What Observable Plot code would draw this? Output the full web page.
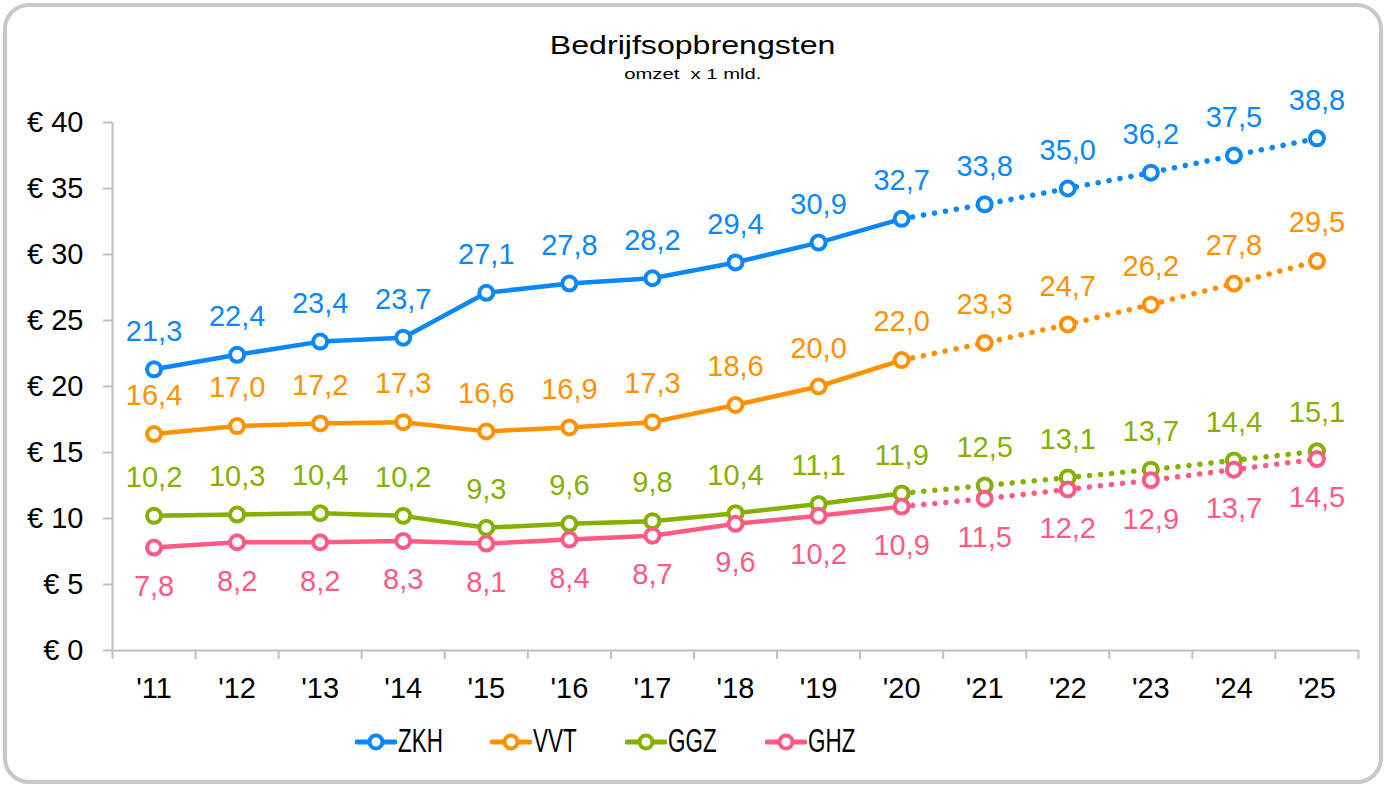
<!DOCTYPE html>
<html>
<head>
<meta charset="utf-8">
<script src="https://cdn.jsdelivr.net/npm/d3@7"></script>
<script src="https://cdn.jsdelivr.net/npm/@observablehq/plot@0.6"></script>
<style>
  body { margin: 0; background: #fff; font-family: "Liberation Sans", Arial, sans-serif; }
  #wrap { position: relative; width: 1386px; height: 787px; overflow: hidden; background: #fff; }
  #frame { position: absolute; left: 3px; top: 3px; width: 1380px; height: 781px; box-sizing: border-box;
           border: 4px solid #c8c8c8; border-radius: 26px; }
  #title { position: absolute; left: 0; width: 1386px; top: 30px; text-align: center; font-size: 26px; line-height: 30px; color: #000; }
  #title span { display: inline-block; transform: scaleX(1.235); transform-origin: center; }
  #subtitle { position: absolute; left: 0; width: 1386px; top: 65px; text-align: center; font-size: 15px; line-height: 17px; color: #000; }
  #subtitle span { display: inline-block; transform: scaleX(1.35); transform-origin: center; }
  #chart { position: absolute; left: 0; top: 0; }
  .leg { position: absolute; top: 722px; height: 40px; }
  .leg svg { position: absolute; left: 0; top: 9px; }
  .leg span { position: absolute; left: 43px; top: 0px; font-size: 33px; line-height: 38px; color: #000;
              transform: scaleX(0.68); transform-origin: left center; white-space: nowrap; }
</style>
</head>
<body>
<div id="wrap">
  <div id="frame"></div>
  <div id="title"><span>Bedrijfsopbrengsten</span></div>
  <div id="subtitle"><span>omzet&nbsp; x 1 mld.</span></div>
  <div id="chart"></div>
  <div id="legend"></div>
</div>
<script>
const years = [2011, 2012, 2013, 2014, 2015, 2016, 2017, 2018, 2019, 2020, 2021, 2022, 2023, 2024, 2025];
const yearLabels = ["'11", "'12", "'13", "'14", "'15", "'16", "'17", "'18", "'19", "'20", "'21", "'22", "'23", "'24", "'25"];
const seriesNames = ["ZKH", "VVT", "GGZ", "GHZ"];
const seriesColors = ["#0A87F8", "#FF9100", "#86B000", "#FF5A84"];
const ZKH = [21.3, 22.4, 23.4, 23.7, 27.1, 27.8, 28.2, 29.4, 30.9, 32.7, 33.8, 35.0, 36.2, 37.5, 38.8];
const VVT = [16.4, 17.0, 17.2, 17.3, 16.6, 16.9, 17.3, 18.6, 20.0, 22.0, 23.3, 24.7, 26.2, 27.8, 29.5];
const GGZ = [10.2, 10.3, 10.4, 10.2, 9.3, 9.6, 9.8, 10.4, 11.1, 11.9, 12.5, 13.1, 13.7, 14.4, 15.1];
const GHZ = [7.8, 8.2, 8.2, 8.3, 8.1, 8.4, 8.7, 9.6, 10.2, 10.9, 11.5, 12.2, 12.9, 13.7, 14.5];
const yTicks = [0, 5, 10, 15, 20, 25, 30, 35, 40];
const lastActualYear = 2020;

const valuesBySeries = {ZKH, VVT, GGZ, GHZ};
const rows = [];
for (const s of seriesNames) {
  valuesBySeries[s].forEach((v, i) => rows.push({series: s, year: years[i], value: v}));
}
const solid = rows.filter(d => d.year <= lastActualYear);
const dotted = rows.filter(d => d.year >= lastActualYear);
const bounds = [...years.map(y => y - 0.5), years[years.length - 1] + 0.5];
const fmt = v => v.toFixed(1).replace(".", ",");
const axisGray = "#c0c0c0";
const labelSize = 29;

const chart = Plot.plot({
  width: 1386,
  height: 720,
  marginLeft: 112,
  marginRight: 28,
  marginTop: 122,
  marginBottom: 70,
  style: {fontFamily: "'Liberation Sans', Arial, sans-serif", color: "#000", background: "transparent", overflow: "visible"},
  x: {domain: [bounds[0], bounds[bounds.length - 1]], axis: null},
  y: {domain: [0, 40], axis: null},
  color: {domain: seriesNames, range: seriesColors},
  marks: [
    Plot.ruleY([0], {stroke: axisGray, strokeWidth: 2}),
    Plot.ruleX([bounds[0]], {stroke: axisGray, strokeWidth: 2}),
    Plot.axisY({ticks: yTicks, tickSize: 9, tickPadding: 20, tickFormat: d => "€ " + d, label: null,
      fontSize: labelSize, stroke: axisGray, strokeWidth: 2}),
    Plot.axisX({ticks: bounds, tickSize: 9, tickFormat: () => "", label: null, stroke: axisGray, strokeWidth: 2}),
    Plot.axisX({ticks: years, tickSize: 0, tickPadding: 27, fontSize: labelSize, label: null,
      tickFormat: d => yearLabels[years.indexOf(d)]}),
    Plot.line(solid, {x: "year", y: "value", z: "series", stroke: "series", strokeWidth: 4.5}),
    Plot.line(dotted, {x: "year", y: "value", z: "series", stroke: "series", strokeWidth: 5.5,
      strokeDasharray: "0.1 11", strokeLinecap: "round"}),
    Plot.dot(rows, {x: "year", y: "value", stroke: "series", fill: "white", r: 7, strokeWidth: 4}),
    Plot.text(rows.filter(d => d.series !== "GHZ"), {x: "year", y: "value", text: d => fmt(d.value),
      fill: "series", dy: -38, fontSize: labelSize}),
    Plot.text(rows.filter(d => d.series === "GHZ"), {x: "year", y: "value", text: d => fmt(d.value),
      fill: "series", dy: 39, fontSize: labelSize})
  ]
});
document.getElementById("chart").appendChild(chart);

// Legend
const legendX = [355, 490, 625, 765];
const legend = document.getElementById("legend");
seriesNames.forEach((s, i) => {
  const item = document.createElement("div");
  item.className = "leg";
  item.style.left = legendX[i] + "px";
  const c = seriesColors[i];
  item.innerHTML = `<svg width="42" height="22"><line x1="2" y1="11" x2="40" y2="11" stroke="${c}" stroke-width="5" stroke-linecap="round"/><circle cx="21" cy="11" r="6.5" fill="white" stroke="${c}" stroke-width="4"/></svg><span>${s}</span>`;
  legend.appendChild(item);
});
</script>
</body>
</html>
